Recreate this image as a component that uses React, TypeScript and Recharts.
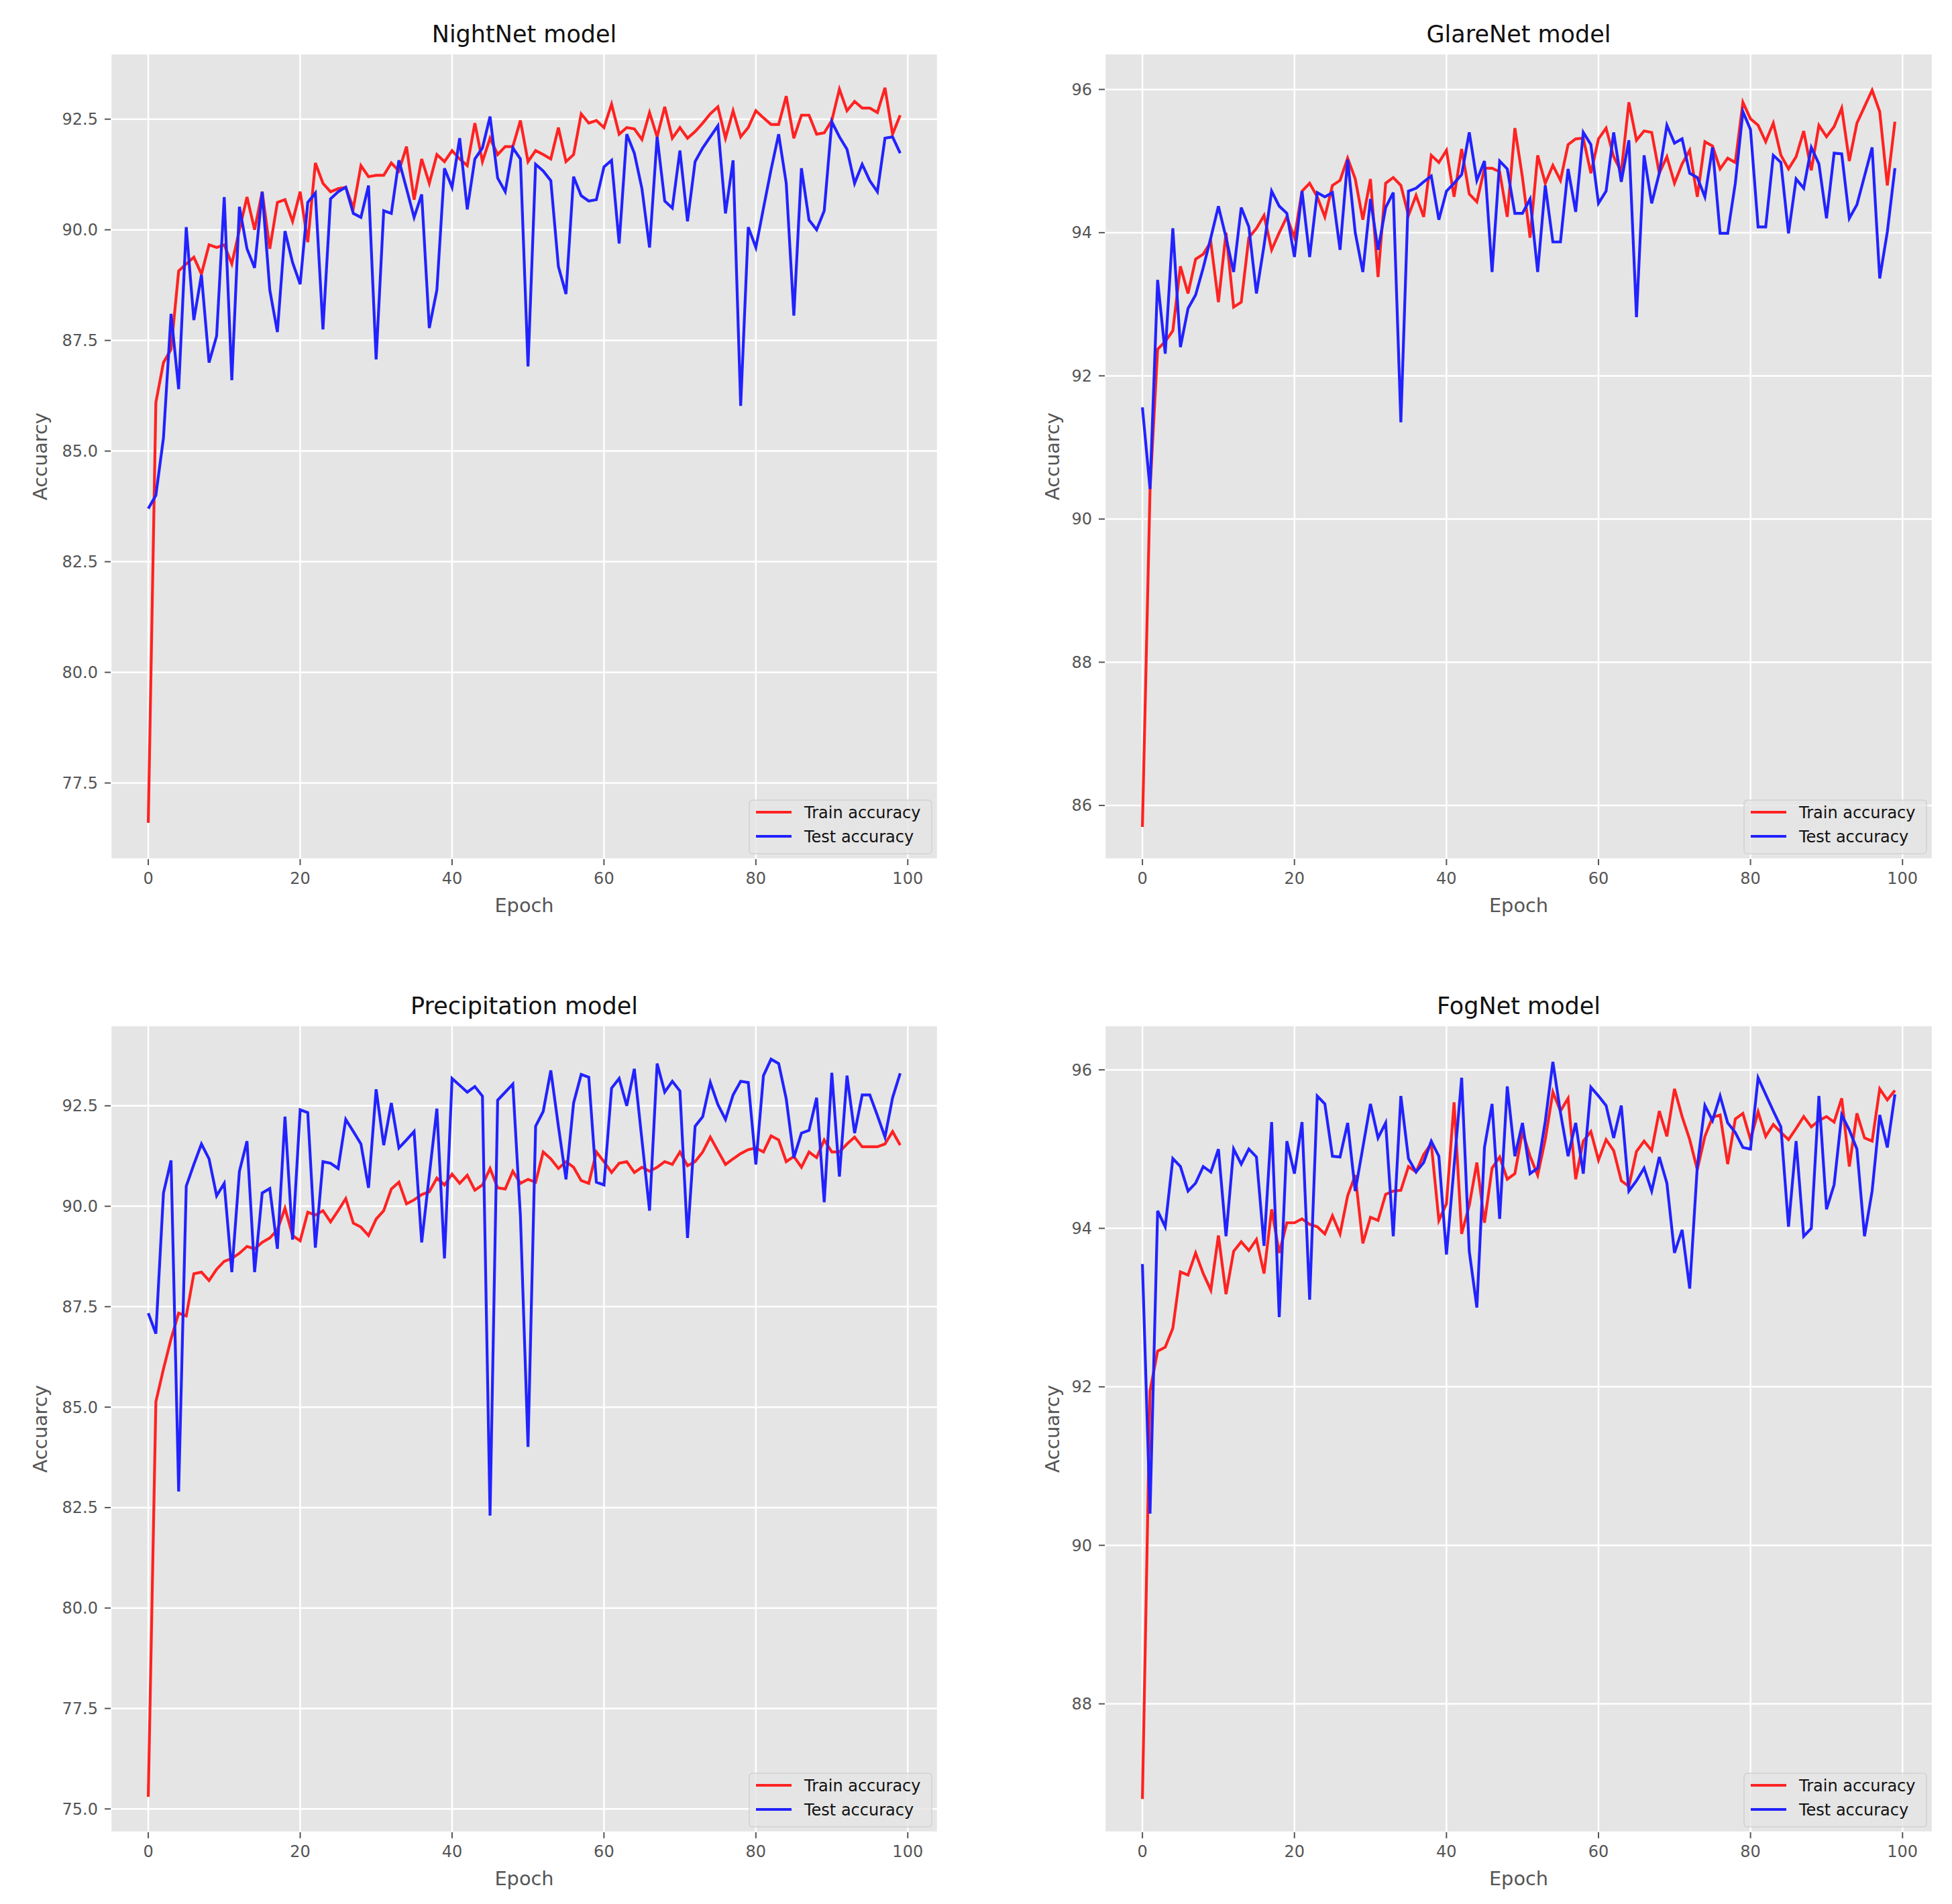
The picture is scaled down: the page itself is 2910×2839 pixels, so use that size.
import { LineChart, Line, CartesianGrid, XAxis, YAxis } from 'recharts';

// epochs 0..99 shared by every panel
const epochs: number[] = Array.from(Array(100).keys());
const xTicks: number[] = [0, 20, 40, 60, 80, 100];

const nightTrain: number[] = [
    76.6, 86.1, 87.0, 87.3, 89.07, 89.23, 89.38, 89.0, 89.66, 89.6,
    89.66, 89.23, 90.0, 90.74, 90.0, 90.86, 89.57, 90.62, 90.68, 90.19,
    90.86, 89.72, 91.51, 91.05, 90.86, 90.93, 90.96, 90.49, 91.45, 91.2,
    91.23, 91.23, 91.51, 91.33, 91.88, 90.68, 91.6, 91.05, 91.7, 91.54,
    91.79, 91.6, 91.45, 92.41, 91.54, 92.07, 91.7, 91.88, 91.88, 92.47,
    91.54, 91.79, 91.7, 91.6, 92.31, 91.54, 91.7, 92.62, 92.41, 92.47,
    92.31, 92.84, 92.16, 92.31, 92.28, 92.04, 92.65, 92.1, 92.78, 92.07,
    92.31, 92.07, 92.22, 92.41, 92.62, 92.78, 92.07, 92.69, 92.1, 92.31,
    92.69, 92.53, 92.38, 92.38, 93.02, 92.07, 92.59, 92.59, 92.16, 92.19,
    92.47, 93.18, 92.69, 92.9, 92.75, 92.75, 92.65, 93.21, 92.16, 92.59,
];
const nightTest: number[] = [
    83.7, 84.0, 85.3, 88.1, 86.4, 90.06, 87.96, 88.98, 87.0, 87.6,
    90.74, 86.6, 90.52, 89.57, 89.14, 90.86, 88.64, 87.69, 89.97, 89.26,
    88.77, 90.62, 90.83, 87.75, 90.7, 90.86, 90.96, 90.37, 90.28, 91.0,
    87.07, 90.43, 90.37, 91.57, 90.93, 90.28, 90.8, 87.78, 88.64, 91.39,
    90.96, 92.07, 90.46, 91.6, 91.85, 92.56, 91.17, 90.86, 91.85, 91.6,
    86.91, 91.48, 91.33, 91.11, 89.17, 88.55, 91.2, 90.77, 90.65, 90.68,
    91.42, 91.57, 89.69, 92.16, 91.73, 90.93, 89.6, 92.1, 90.65, 90.49,
    91.79, 90.19, 91.54, 91.85, 92.1, 92.35, 90.37, 91.57, 86.02, 90.06,
    89.6, 90.49, 91.36, 92.16, 91.05, 88.06, 91.39, 90.22, 90.0, 90.43,
    92.44, 92.1, 91.82, 91.05, 91.48, 91.11, 90.86, 92.07, 92.1, 91.73,
];

const glareTrain: number[] = [
    85.7, 90.4, 92.37, 92.48, 92.63, 93.53, 93.15, 93.63, 93.7, 93.87,
    93.03, 94.0, 92.96, 93.03, 93.93, 94.06, 94.24, 93.76, 94.0, 94.22,
    93.93, 94.58, 94.69, 94.5, 94.22, 94.66, 94.73, 95.04, 94.75, 94.18,
    94.75, 93.38, 94.69, 94.77, 94.66, 94.24, 94.52, 94.22, 95.08, 94.98,
    95.15, 94.5, 95.17, 94.54, 94.43, 94.9, 94.9, 94.85, 94.22, 95.46,
    94.77, 93.93, 95.08, 94.69, 94.94, 94.73, 95.23, 95.31, 95.32, 94.83,
    95.31, 95.46, 95.06, 94.85, 95.82, 95.29, 95.42, 95.4, 94.83, 95.06,
    94.69, 94.96, 95.15, 94.5, 95.27, 95.21, 94.89, 95.04, 94.98, 95.82,
    95.59, 95.5, 95.27, 95.53, 95.08, 94.89, 95.06, 95.42, 94.87, 95.5,
    95.34, 95.48, 95.74, 95.0, 95.53, 95.76, 95.99, 95.69, 94.66, 95.55,
];
const glareTest: number[] = [
    91.56, 90.42, 93.34, 92.31, 94.06, 92.4, 92.94, 93.13, 93.51, 93.93,
    94.37, 93.93, 93.45, 94.35, 94.08, 93.15, 93.82, 94.58, 94.37, 94.27,
    93.66, 94.58, 93.66, 94.56, 94.5, 94.56, 93.76, 95.02, 94.0, 93.45,
    94.47, 93.76, 94.35, 94.56, 91.35, 94.58, 94.62, 94.71, 94.79, 94.18,
    94.58, 94.69, 94.81, 95.4, 94.73, 95.0, 93.45, 95.0, 94.89, 94.27,
    94.27, 94.47, 93.45, 94.66, 93.87, 93.87, 94.89, 94.29, 95.4, 95.23,
    94.41, 94.58, 95.4, 94.71, 95.29, 92.82, 95.08, 94.41, 94.83, 95.5,
    95.25, 95.31, 94.83, 94.77, 94.5, 95.19, 93.99, 93.99, 94.69, 95.69,
    95.44, 94.08, 94.08, 95.08, 94.98, 93.99, 94.75, 94.62, 95.19, 94.96,
    94.2, 95.11, 95.1, 94.2, 94.39, 94.79, 95.19, 93.36, 94.01, 94.9,
];

const precipTrain: number[] = [
    75.3, 85.13, 85.95, 86.7, 87.34, 87.27, 88.32, 88.36, 88.15, 88.43,
    88.63, 88.7, 88.83, 89.0, 88.94, 89.1, 89.21, 89.41, 89.95, 89.27,
    89.14, 89.85, 89.78, 89.89, 89.61, 89.89, 90.19, 89.58, 89.48, 89.27,
    89.68, 89.89, 90.43, 90.6, 90.06, 90.16, 90.29, 90.36, 90.7, 90.53,
    90.8, 90.57, 90.77, 90.4, 90.53, 90.94, 90.46, 90.43, 90.87, 90.57,
    90.67, 90.6, 91.35, 91.18, 90.94, 91.11, 90.97, 90.64, 90.57, 91.35,
    91.11, 90.84, 91.07, 91.11, 90.84, 90.97, 90.87, 90.97, 91.11, 91.04,
    91.35, 91.01, 91.11, 91.35, 91.72, 91.38, 91.04, 91.18, 91.31, 91.41,
    91.45, 91.35, 91.75, 91.65, 91.11, 91.24, 90.97, 91.35, 91.21, 91.65,
    91.35, 91.35, 91.55, 91.72, 91.48, 91.48, 91.48, 91.55, 91.86, 91.52,
];
const precipTest: number[] = [
    87.34, 86.83, 90.33, 91.14, 82.9, 90.5, 91.04, 91.55, 91.18, 90.26,
    90.57, 88.36, 90.87, 91.62, 88.36, 90.33, 90.44, 88.94, 92.23, 89.17,
    92.4, 92.33, 88.97, 91.11, 91.07, 90.94, 92.16, 91.86, 91.55, 90.46,
    92.91, 91.52, 92.57, 91.45, 91.65, 91.86, 89.1, 90.77, 92.43, 88.7,
    93.18, 93.01, 92.84, 92.98, 92.74, 82.3, 92.64, 92.84, 93.04, 89.75,
    84.01, 91.99, 92.36, 93.38, 91.99, 90.67, 92.57, 93.28, 93.21, 90.6,
    90.53, 92.94, 93.18, 92.5, 93.42, 91.65, 89.89, 93.55, 92.84, 93.11,
    92.87, 89.21, 91.99, 92.23, 93.08, 92.53, 92.16, 92.77, 93.11, 93.08,
    91.04, 93.25, 93.66, 93.55, 92.67, 91.21, 91.82, 91.89, 92.7, 90.1,
    93.32, 90.74, 93.25, 91.82, 92.77, 92.77, 92.26, 91.72, 92.7, 93.31,
];

const fogTrain: number[] = [
    86.8, 91.95, 92.45, 92.5, 92.74, 93.45, 93.41, 93.69, 93.43, 93.22,
    93.91, 93.17, 93.71, 93.83, 93.72, 93.86, 93.43, 94.24, 93.69, 94.07,
    94.07, 94.12, 94.05, 94.02, 93.93, 94.16, 93.93, 94.41, 94.67, 93.81,
    94.14, 94.1, 94.43, 94.47, 94.48, 94.78, 94.71, 94.93, 95.07, 94.1,
    94.31, 95.59, 93.93, 94.29, 94.83, 94.07, 94.76, 94.9, 94.62, 94.69,
    95.22, 94.91, 94.67, 95.12, 95.72, 95.48, 95.64, 94.62, 95.1, 95.22,
    94.86, 95.12, 94.98, 94.6, 94.53, 94.97, 95.1, 94.98, 95.48, 95.16,
    95.76, 95.41, 95.12, 94.74, 95.16, 95.4, 95.43, 94.81, 95.38, 95.45,
    95.12, 95.47, 95.16, 95.31, 95.21, 95.12, 95.26, 95.41, 95.28, 95.36,
    95.41, 95.34, 95.64, 94.78, 95.45, 95.14, 95.1, 95.76, 95.62, 95.74,
];
const fogTest: number[] = [
    93.55, 90.4, 94.22, 94.02, 94.88, 94.78, 94.47, 94.57, 94.78, 94.71,
    95.0, 93.9, 95.0, 94.81, 95.0, 94.9, 93.78, 95.34, 92.88, 95.1,
    94.69, 95.34, 93.1, 95.67, 95.57, 94.91, 94.9, 95.33, 94.47, 95.02,
    95.57, 95.14, 95.33, 93.9, 95.67, 94.88, 94.71, 94.83, 95.1, 94.91,
    93.67, 94.78, 95.9, 93.71, 93.0, 95.02, 95.57, 94.12, 95.79, 94.91,
    95.33, 94.69, 94.76, 95.35, 96.1, 95.46, 94.91, 95.33, 94.69, 95.78,
    95.67, 95.55, 95.14, 95.55, 94.47, 94.6, 94.76, 94.47, 94.9, 94.57,
    93.69, 93.98, 93.24, 94.78, 95.55, 95.36, 95.67, 95.33, 95.21, 95.02,
    95.0, 95.9, 95.69, 95.48, 95.28, 94.02, 95.1, 93.9, 94.0, 95.67,
    94.24, 94.55, 95.43, 95.24, 95.0, 93.9, 94.47, 95.43, 95.02, 95.69,
];

const nightTicks: number[] = [77.5, 80, 82.5, 85, 87.5, 90, 92.5];
const glareTicks: number[] = [86, 88, 90, 92, 94, 96];
const precipTicks: number[] = [75, 77.5, 80, 82.5, 85, 87.5, 90, 92.5];
const fogTicks: number[] = [88, 90, 92, 94, 96];

const FONT = 'DejaVu Sans';
const AXIS_GRAY = '#555555';
const TRAIN_COLOR = '#ff2222';
const TEST_COLOR = '#2222ff';
const LINE_W = 4.2;
const PLOT_LEFT = 165;
const PLOT_TOP = 80;

const toRows = (train: number[], test: number[]) =>
    epochs.map((epoch, i) => ({ epoch, train: train[i], test: test[i] }));

type PanelProps = {
    title: string;
    left: number;
    top: number;
    pw: number;
    ph: number;
    train: number[];
    test: number[];
    domain: [number, number];
    ticks: number[];
    decimals: number;
    labelX: number;
};

const Panel = ({ title, left, top, pw, ph, train, test, domain, ticks, decimals, labelX }: PanelProps) => {

    const width = PLOT_LEFT + pw + 40;
    const height = PLOT_TOP + ph + 120;
    const right = PLOT_LEFT + pw;
    const bottom = PLOT_TOP + ph;
    const midY = PLOT_TOP + ph / 2;
    const tickStyle = { fill: AXIS_GRAY, fontSize: 24, fontFamily: FONT };

    return (
        <div style={{ position: 'absolute', left, top, width, height }}>
            <LineChart
                width={width}
                height={height}
                data={toRows(train, test)}
                margin={{ top: PLOT_TOP, right: 40, bottom: 60, left: 0 }}
            >
                <CartesianGrid fill="#E5E5E5" fillOpacity={1} stroke="#ffffff" strokeWidth={2.5} />
                <XAxis
                    dataKey="epoch"
                    type="number"
                    domain={[-4.95, 103.95]}
                    ticks={xTicks}
                    interval={0}
                    allowDataOverflow={true}
                    axisLine={false}
                    tickLine={{ stroke: AXIS_GRAY, strokeWidth: 2 }}
                    tickSize={9}
                    tickMargin={11}
                    height={60}
                    tick={tickStyle}
                />
                <YAxis
                    type="number"
                    domain={domain}
                    ticks={ticks}
                    interval={0}
                    allowDataOverflow={true}
                    axisLine={false}
                    tickLine={{ stroke: AXIS_GRAY, strokeWidth: 2 }}
                    tickSize={9}
                    tickMargin={10}
                    width={PLOT_LEFT}
                    tick={tickStyle}
                    tickFormatter={(v: number) => v.toFixed(decimals)}
                />
                <Line type="linear" dataKey="train" stroke={TRAIN_COLOR} strokeWidth={LINE_W} dot={false} activeDot={false} isAnimationActive={false} />
                <Line type="linear" dataKey="test" stroke={TEST_COLOR} strokeWidth={LINE_W} dot={false} activeDot={false} isAnimationActive={false} />
            </LineChart>
            <svg
                width={width}
                height={height}
                style={{ position: 'absolute', left: 0, top: 0, pointerEvents: 'none' }}
                fontFamily={FONT}
            >
                <text x={PLOT_LEFT + pw / 2} y={63} textAnchor="middle" fontSize={35} fill="#111111">{title}</text>
                <text x={PLOT_LEFT + pw / 2} y={bottom + 79} textAnchor="middle" fontSize={28.8} fill={AXIS_GRAY}>Epoch</text>
                <text
                    x={labelX + 10.5}
                    y={midY}
                    textAnchor="middle"
                    fontSize={28.8}
                    fill={AXIS_GRAY}
                    transform={`rotate(-90 ${labelX + 10.5} ${midY})`}
                >Accuarcy</text>
                <rect x={right - 281} y={bottom - 88} width={272} height={80} rx={5}
                    fill="#E5E5E5" fillOpacity={0.8} stroke="#cccccc" strokeOpacity={0.8} strokeWidth={1.5} />
                <line x1={right - 271} x2={right - 218} y1={bottom - 70} y2={bottom - 70} stroke={TRAIN_COLOR} strokeWidth={LINE_W} />
                <line x1={right - 271} x2={right - 218} y1={bottom - 34} y2={bottom - 34} stroke={TEST_COLOR} strokeWidth={LINE_W} />
                <text x={right - 199} y={bottom - 70 + 8.7} fontSize={24} fill="#111111">Train accuracy</text>
                <text x={right - 199} y={bottom - 34 + 8.7} fontSize={24} fill="#111111">Test accuracy</text>
            </svg>
        </div>
    );
};

export default function App() {
    return (
        <div style={{ position: 'absolute', left: 0, top: 0, width: 2910, height: 2839, background: '#ffffff' }}>
            <Panel title="NightNet model" left={0} top={0} pw={1233} ph={1201}
                train={nightTrain} test={nightTest} domain={[75.78, 93.98]} ticks={nightTicks} decimals={1} labelX={59} />
            <Panel title="GlareNet model" left={1482} top={0} pw={1234} ph={1201}
                train={glareTrain} test={glareTest} domain={[85.25, 96.5]} ticks={glareTicks} decimals={0} labelX={86} />
            <Panel title="Precipitation model" left={0} top={1449} pw={1233} ph={1203}
                train={precipTrain} test={precipTest} domain={[74.42, 94.5]} ticks={precipTicks} decimals={1} labelX={59} />
            <Panel title="FogNet model" left={1482} top={1449} pw={1234} ph={1203}
                train={fogTrain} test={fogTest} domain={[86.38, 96.56]} ticks={fogTicks} decimals={0} labelX={86} />
        </div>
    );
}
